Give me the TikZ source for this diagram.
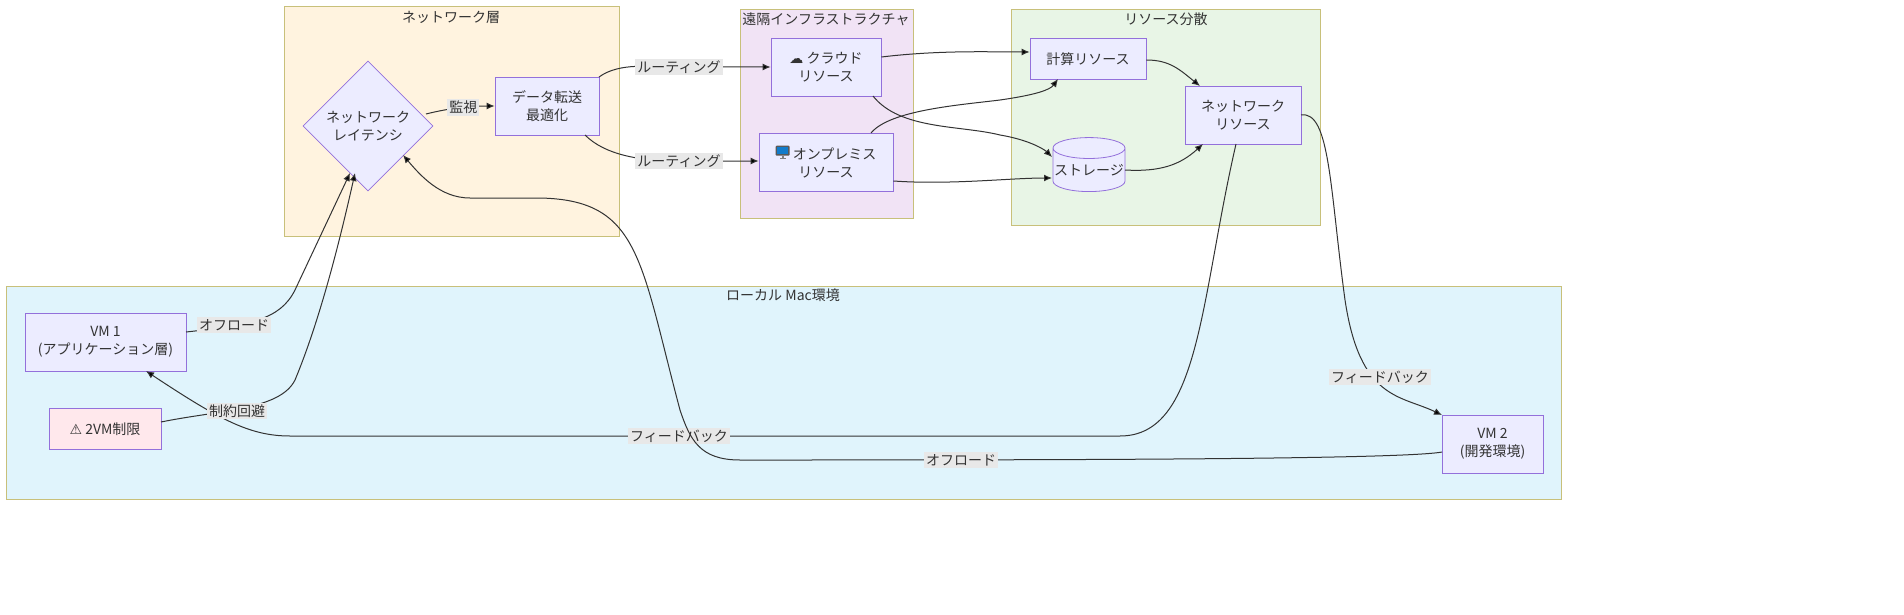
\documentclass[tikz,border=0pt]{standalone}
\usepackage{fontspec}
\setmainfont{Noto Sans CJK JP}
\newfontfamily\symf{DejaVu Sans}
\usetikzlibrary{shapes.geometric,arrows.meta}
\definecolor{nodefill}{HTML}{ECECFF}
\definecolor{nodeline}{HTML}{9370DB}
\definecolor{clline}{HTML}{C8C07A}
\definecolor{lblbg}{HTML}{E8E8E8}
\definecolor{txt}{HTML}{333333}
\definecolor{cfa}{HTML}{FFF3DF}
\definecolor{cfb}{HTML}{F1E3F5}
\definecolor{cfc}{HTML}{E8F5E6}
\definecolor{cfd}{HTML}{E0F4FC}
\definecolor{pinkf}{HTML}{FFE8EC}
\newcommand{\monitoricon}{\tikz[baseline=-0.5pt,x=1pt,y=1pt]{\fill[gray!70!black,rounded corners=0.5pt](0,1.5) rectangle (7,6.5);\fill[cyan!60!blue](0.7,2.2) rectangle (6.3,5.8);\fill[gray](3,0.3) rectangle (4,1.5);\fill[gray](2,0) rectangle (5,0.5);}}
\begin{document}
\begin{tikzpicture}[x=0.5pt,y=-0.5pt,font=\fontsize{7}{9}\selectfont,text=txt,
 cl/.style={draw=clline,line width=0.4pt},
 box/.style={draw=nodeline,fill=nodefill,line width=0.4pt,align=center,inner sep=0},
 lbl/.style={fill=lblbg,inner sep=1pt,text=txt},
 ed/.style={draw=txt,line width=0.5pt,-{Latex[length=4pt,width=3.5pt]}},
 ttl/.style={text=txt}]
\useasboundingbox (0,0) rectangle (1904,615);
% clusters
\draw[cl,fill=cfa] (284,6) rectangle (619,236);
\node[ttl] (t1) at (451,17) {ネットワーク層};
\draw[cl,fill=cfb] (740,9) rectangle (913,218);
\node[ttl] (t2) at (826,19) {遠隔インフラストラクチャ};
\draw[cl,fill=cfc] (1011,9) rectangle (1320,225);
\node[ttl] (t3) at (1166,19) {リソース分散};
\draw[cl,fill=cfd] (6,286) rectangle (1561,499);
\node[ttl] (t4) at (783,295) {ローカル Mac環境};
% nodes
\node[box,diamond,minimum width=65pt,minimum height=65pt,aspect=1] (lat) at (368,126) {ネットワーク\\レイテンシ};
\node[box,minimum width=52pt,minimum height=29pt] (dt) at (547,106) {データ転送\\最適化};
\node[box,minimum width=55pt,minimum height=29pt] (cl) at (826,67) {{\symf ☁} クラウド\\リソース};
\node[box,minimum width=67pt,minimum height=29pt] (op) at (826,162) {\monitoricon{} オンプレミス\\リソース};
\node[box,minimum width=58pt,minimum height=20.5pt] (cp) at (1088,59) {計算リソース};
\node[box,cylinder,shape border rotate=90,aspect=0.3,minimum width=36pt,minimum height=27pt] (st) at (1089,170) {ストレージ};
\node[box,minimum width=58pt,minimum height=29pt] (nr) at (1243,115) {ネットワーク\\リソース};
\node[box,minimum width=80.5pt,minimum height=29pt,font=\fontsize{7}{9}\selectfont\rmfamily] (vm1) at (105.5,342) {VM 1\\(アプリケーション層)};
\node[box,fill=pinkf,minimum width=56pt,minimum height=20.5pt] (lim) at (105,429) {{\symf ⚠} 2VM制限};
\node[box,minimum width=50.5pt,minimum height=29pt] (vm2) at (1492.5,444) {VM 2\\(開発環境)};
% edges
\draw[ed] (426,114) .. controls (450,108) and (470,106) .. node[lbl,pos=0.55]{監視} (dt.west);
\draw[ed] (599,77) .. controls (620,62) and (650,67) .. (679,67) -- (cl.west |- 0,67);
\node[lbl] (r1) at (679,67) {ルーティング};
\draw[ed] (585,135) .. controls (605,155) and (640,161) .. (679,161) -- (op.west |- 0,161);
\node[lbl] (r2) at (679,161) {ルーティング};
\draw[ed] (cl.east |- 0,57) .. controls (940,50) and (990,52) .. (cp.west |- 0,52);
\draw[ed] (873,96) .. controls (900,130) and (960,125) .. (1000,135) .. controls (1030,140) and (1045,150) .. (1052,157);
\draw[ed] (871,133) .. controls (890,110) and (960,105) .. (1000,100) .. controls (1035,95) and (1050,90) .. (1058,79);
\draw[ed] (op.east |- 0,181) .. controls (950,185) and (1010,178) .. (1052,178);
\draw[ed] (cp.east |- 0,60) .. controls (1170,60) and (1180,70) .. (1200,86);
\draw[ed] (1125,170) .. controls (1160,172) and (1180,165) .. (1203,144);
% feedback to VM2
\draw[ed] (1301,115) .. controls (1330,110) and (1330,190) .. (1345,300) .. controls (1360,400) and (1400,395) .. (1442,415);
\node[lbl] (fb2) at (1380,377) {フィードバック};
% feedback to VM1
\draw[ed] (1236,144) .. controls (1200,300) and (1200,436) .. (1120,436) -- (290,436) .. controls (250,436) and (220,420) .. (146,371);
\node[lbl] (fb1) at (679,436) {フィードバック};
% offload VM2 -> latency
\draw[ed] (1442,452) .. controls (1400,460) and (1000,460) .. (740,460) .. controls (700,460) and (690,440) .. (680,410) .. controls (640,260) and (640,200) .. (540,198) -- (470,198) .. controls (440,198) and (420,175) .. (403,155);
\node[lbl] (of2) at (961,460) {オフロード};
% offload VM1 -> latency
\draw[ed] (186,332) .. controls (250,325) and (280,320) .. (295,290) -- (350,173);
\node[lbl] (of1) at (234,325) {オフロード};
% constraint
\draw[ed] (161,422) .. controls (220,410) and (280,410) .. (295,380) .. controls (320,320) and (340,240) .. (355,173);
\node[lbl] (cv) at (237,411) {制約回避};
\end{tikzpicture}
\end{document}
